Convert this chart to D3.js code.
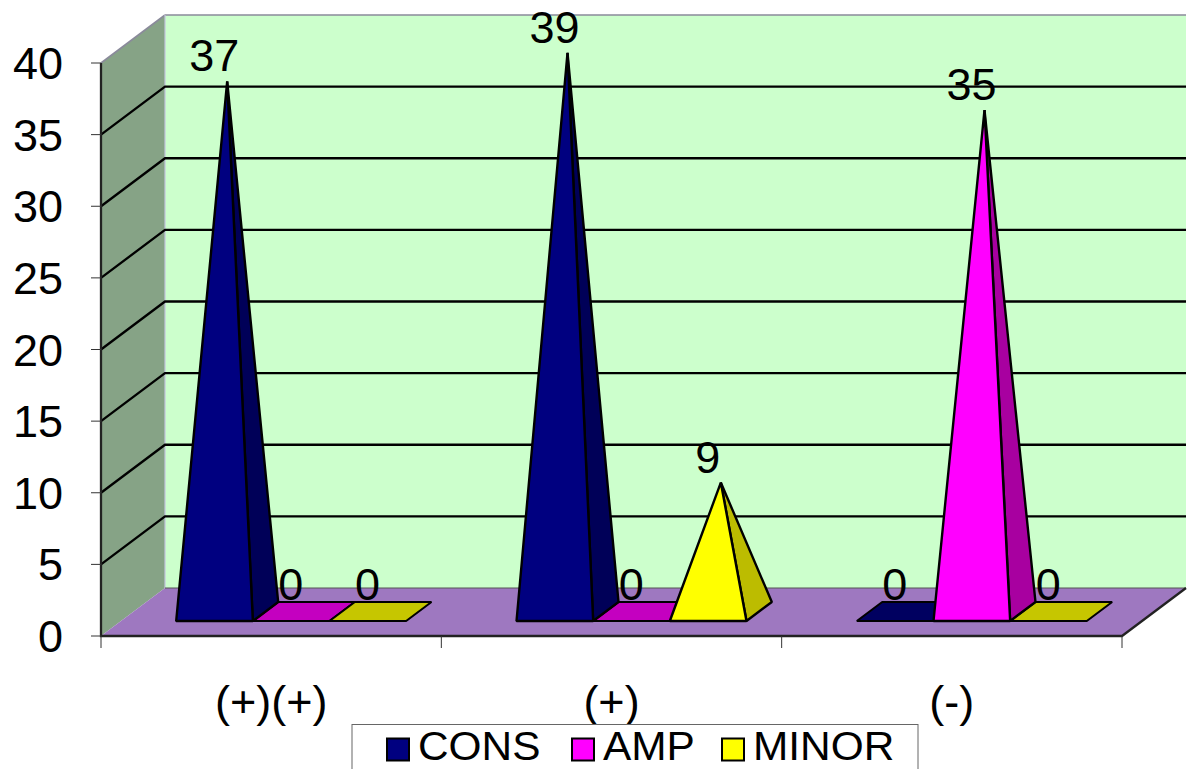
<!DOCTYPE html>
<html><head><meta charset="utf-8">
<script src="https://cdn.jsdelivr.net/npm/d3@7"></script>
<style>html,body{margin:0;padding:0;background:#fff;overflow:hidden}text{font-family:"Liberation Sans",Arial,sans-serif;fill:#000}</style>
</head><body><svg id="c" width="1188" height="769"></svg>
<script>
const categories = ["(+)(+)", "(+)", "(-)"];
const seriesNames = ["CONS", "AMP", "MINOR"];
const CONS = [37, 39, 0];
const AMP = [0, 0, 35];
const MINOR = [0, 9, 0];
const yTicks = [0, 5, 10, 15, 20, 25, 30, 35, 40];
const seriesValues = [CONS, AMP, MINOR];
const frontColors = ["#000080", "#ff00ff", "#ffff00"];
const sideColors = ["#000058", "#a800a0", "#bcbc00"];
const topColors = ["#000060", "#c400c0", "#c6c600"];

const svg = d3.select("#c");
const x0 = d3.scaleBand().domain(categories).range([101, 1122]);
const xS = d3.scaleBand().domain(seriesNames).range([0, x0.bandwidth()]).paddingOuter(0.72).paddingInner(0);
const y = d3.scaleLinear().domain([0, 40]).range([636, 63]);
const D = {x: 64, y: -48};
const pt = (x, y, t) => [x + D.x * t, y + D.y * t];
const line = pts => "M" + pts.map(p => p.join(",")).join("L") + "Z";
const poly = (pts, fill, sw = 2.4) => svg.append("path").attr("d", line(pts)).attr("fill", fill)
  .attr("stroke", "#000").attr("stroke-width", sw).attr("stroke-linejoin", "bevel");

const L = x0.range()[0], R = x0.range()[1], y0 = y(0), yT = y(40);
// back wall, side wall, floor
svg.append("path").attr("d", line([pt(L, y0, 1), pt(R, y0, 1), pt(R, yT, 1), pt(L, yT, 1)])).attr("fill", "#ccffcc");
svg.append("path").attr("d", line([[L, y0], pt(L, y0, 1), pt(L, yT, 1), [L, yT]])).attr("fill", "#86a386");
svg.append("path").attr("d", line([[L, y0], [R, y0], pt(R, y0, 1), pt(L, y0, 1)])).attr("fill", "#9e78c0");
svg.append("path").attr("d", `M${pt(L, yT, 1)}L${pt(R, yT, 1)}M${pt(L, yT, 1)}L${L},${yT}`).attr("fill", "none").attr("stroke", "#8a8a9a").attr("stroke-width", 1.6);
svg.append("path").attr("d", `M${pt(L, y0, 1)}L${pt(L, yT, 1)}`).attr("fill", "none").attr("stroke", "#c4c4e0").attr("stroke-width", 1.2);
// gridlines
yTicks.filter(t => t > 0 && t < 40).forEach(t => {
  svg.append("path").attr("d", `M${L},${y(t)}L${pt(L, y(t), 1)}L${pt(R, y(t), 1)}`).attr("fill", "none").attr("stroke", "#000").attr("stroke-width", 2.3);
});
svg.append("path").attr("d", `M${pt(L, y0, 1)}L${pt(R, y0, 1)}`).attr("stroke", "#555").attr("stroke-width", 1);
// axes
svg.append("path").attr("d", `M${L},${yT}V${y0}H${R}L${pt(R, y0, 1)}`).attr("fill", "none").attr("stroke", "#222").attr("stroke-width", 2.3);
yTicks.forEach(t => {
  svg.append("line").attr("x1", L - 10).attr("x2", L).attr("y1", y(t)).attr("y2", y(t)).attr("stroke", "#333").attr("stroke-width", 1);
  svg.append("text").attr("x", 63).attr("y", y(t) + 16).attr("text-anchor", "end").attr("font-size", 45).text(t);
});
[...categories.map(c => x0(c)), R].forEach(x => {
  svg.append("line").attr("x1", x).attr("x2", x).attr("y1", y0).attr("y2", y0 + 12).attr("stroke", "#333").attr("stroke-width", 1);
});
categories.forEach(c => {
  svg.append("text").attr("x", x0(c) + x0.bandwidth() / 2).attr("y", 717).attr("text-anchor", "middle").attr("font-size", 45).text(c);
});
// pyramids
const tF = 15 / 48, tB = 34 / 48, tC = (tF + tB) / 2;
const marks = [];
categories.forEach((c, i) => seriesNames.forEach((s, j) => marks.push({c, s, j, v: seriesValues[j][i]})));
marks.filter(m => m.v === 0).forEach(drawMark);
marks.filter(m => m.v !== 0).forEach(drawMark);
function drawMark(m) {
  const a = x0(m.c) + xS(m.s), b = a + xS.bandwidth();
  const fl = pt(a, y0, tF), fr = pt(b, y0, tF), bl = pt(a, y0, tB), br = pt(b, y0, tB);
  const apex = pt((a + b) / 2, y(m.v), tC);
  if (m.v === 0) {
    poly([fl, fr, br, bl], topColors[m.j], 2);
    svg.append("text").attr("x", apex[0] - 13).attr("y", 600).attr("text-anchor", "middle").attr("font-size", 45).text(m.v);
  } else {
    poly([fr, br, apex], sideColors[m.j]);
    poly([fl, fr, apex], frontColors[m.j]);
    svg.append("text").attr("x", apex[0] - 13).attr("y", apex[1] - 10).attr("text-anchor", "middle").attr("font-size", 45).text(m.v);
  }
}
// legend
const lg = svg.append("g");
lg.append("rect").attr("x", 352).attr("y", 724.5).attr("width", 566).attr("height", 60).attr("fill", "#fff").attr("stroke", "#666").attr("stroke-width", 1);
const legX = d3.scaleOrdinal().domain(seriesNames).range([387, 572, 722]);
seriesNames.forEach((s, j) => {
  lg.append("rect").attr("x", legX(s)).attr("y", 738.5).attr("width", 22).attr("height", 22).attr("fill", frontColors[j]).attr("stroke", "#000").attr("stroke-width", 2);
  const t = lg.append("text").attr("x", legX(s) + 31).attr("y", 760).attr("font-size", 40).text(s);
  t.attr("textLength", t.node().getComputedTextLength() * 1.06).attr("lengthAdjust", "spacingAndGlyphs");
});
</script></body></html>
